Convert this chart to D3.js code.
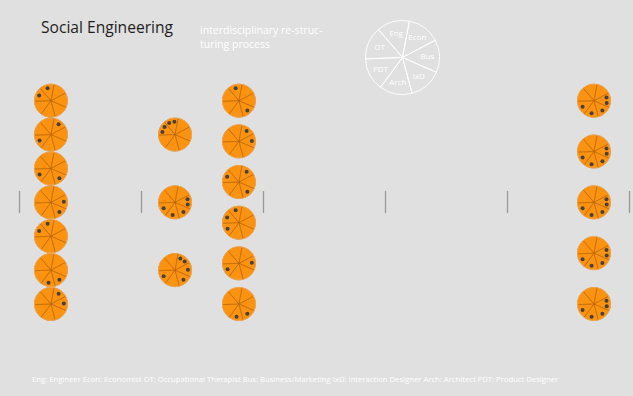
<!DOCTYPE html>
<html><head><meta charset="utf-8">
<script src="https://cdn.jsdelivr.net/npm/d3@7/dist/d3.min.js"></script>
<style>html,body{margin:0;padding:0;background:#e0e0e0;}svg{display:block;}</style>
</head><body>
<svg id="chart" width="633" height="396"></svg>
<script>
// ---- data ----
const disciplines = ["Eng","Econ","Bus","IxD","Arch","PDT","OT"];
const footnoteKeys = ["Eng","Econ","OT","Bus","IxD","Arch","PDT"];
const footnoteNames = ["Engineer","Economist","Occupational Therapist","Business/Marketing","Interaction Designer","Architect","Product Designer"];
const axisTicks = [0,1,2,3,4,5];
const columnPositions = [0.262, 1.279, 1.803, 4.713];
const column1 = [["Eng","OT"],["Econ","PDT"],["PDT","IxD"],["Bus","IxD"],["Eng","OT"],["Arch","IxD"],["Econ","Bus"]];
const column2 = [["OT","OT","Eng","Eng"],["Bus","Bus","IxD","Arch","PDT"],["Econ","Econ","Bus","IxD","PDT"]];
const column3 = [["Eng","IxD"],["Econ","Bus"],["Econ","OT","IxD"],["Eng","OT","PDT"],["PDT","Bus"],["Arch","IxD"]];
const column4 = [["Bus","Bus","IxD","Arch","PDT"],["Bus","Bus","IxD","Arch","PDT"],["Bus","Bus","IxD","Arch","PDT"],["Bus","Bus","IxD","Arch","PDT"],["Bus","Bus","IxD","Arch","PDT"]];
const columns = [column1, column2, column3, column4];
const titleText = "Social Engineering";
const subtitleLines = ["interdisciplinary re-struc-","turing process"];

// ---- layout ----
const W = 633, H = 396;
const svg = d3.select("#chart");
svg.append("rect").attr("width",W).attr("height",H).attr("fill","#e0e0e0");

const x = d3.scaleLinear().domain([0,5]).range([19,629]);
const axisY = 202;
const startA = -40.7*Math.PI/180;
const pie = d3.pie().value(()=>1).sort(null).startAngle(startA).endAngle(startA+2*Math.PI);
const slices = pie(disciplines);
const sliceOf = {};
slices.forEach(s=>{ sliceOf[s.data]=s; });

// axis ticks
const axis = d3.axisBottom(x).tickValues(axisTicks).tickSize(22).tickFormat("");
const ag = svg.append("g").attr("transform",`translate(0,${axisY-11})`).call(axis);
ag.select(".domain").remove();
ag.selectAll(".tick line").attr("stroke","#9a9a9a").attr("stroke-width",1.3);

// title & subtitle
svg.append("text").attr("x",41).attr("y",33).attr("font-family","Open Sans")
  .attr("font-size",15.6).attr("fill","#1e1e1e").text(titleText);
svg.append("g").selectAll("text").data(subtitleLines).join("text")
  .attr("x",200).attr("y",(d,i)=>34+i*14.4).attr("font-family","Open Sans")
  .attr("font-size",10.5).attr("fill","#fff").text(d=>d);

// legend pie
const LR = 37;
const lg = svg.append("g").attr("transform","translate(402.5,57.5)");
const legArc = d3.arc().innerRadius(0).outerRadius(LR);
lg.selectAll("path").data(slices).join("path").attr("d",legArc)
  .attr("fill","none").attr("stroke","#fff").attr("stroke-width",1).attr("stroke-opacity",0.9);
const labArc = d3.arc().innerRadius(25).outerRadius(25);
lg.selectAll("text").data(slices).join("text")
  .attr("transform",d=>`translate(${labArc.centroid(d)})`)
  .attr("text-anchor","middle").attr("dy","0.35em")
  .attr("font-family","Open Sans").attr("font-size",8).attr("fill","#fff")
  .text(d=>d.data);

// circles
const R = 16.5;
const arc = d3.arc().innerRadius(0).outerRadius(R);
columns.forEach((col,ci)=>{
  const pad = col.length<=3 ? 0.5 : 0;
  const y = d3.scalePoint().domain(d3.range(col.length)).range([100.7,304]).padding(pad);
  col.forEach((list,ri)=>{
    const g = svg.append("g").attr("transform",`translate(${x(columnPositions[ci])},${y(ri)})`);
    g.append("circle").attr("r",R).attr("fill","#fb9310");
    g.selectAll("path").data(slices).join("path").attr("d",arc)
      .attr("fill","none").attr("stroke","#b5620c").attr("stroke-width",0.6).attr("stroke-opacity",0.8);
    g.append("circle").attr("r",R).attr("fill","none").attr("stroke","#f7a443").attr("stroke-width",1);
    // dots
    const counts = d3.rollup(list, v=>v.length, d=>d);
    const dots = [];
    counts.forEach((k,key)=>{
      const s = sliceOf[key];
      const c = (s.startAngle+s.endAngle)/2;
      for(let j=0;j<k;j++){
        const a = c + (j-(k-1)/2)*24*Math.PI/180;
        dots.push([Math.sin(a)*R*0.78, -Math.cos(a)*R*0.78]);
      }
    });
    g.selectAll("circle.dot").data(dots).join("circle").attr("class","dot")
      .attr("cx",d=>d[0]).attr("cy",d=>d[1]).attr("r",2).attr("fill","#4a4038");
  });
});

// footnote
svg.append("text").attr("x",32).attr("y",382).attr("font-family","Open Sans")
  .attr("font-size",7.7).attr("fill","#fff")
  .text(footnoteKeys.map((k,i)=>`${k}: ${footnoteNames[i]}`).join("  "));
</script>
</body></html>
